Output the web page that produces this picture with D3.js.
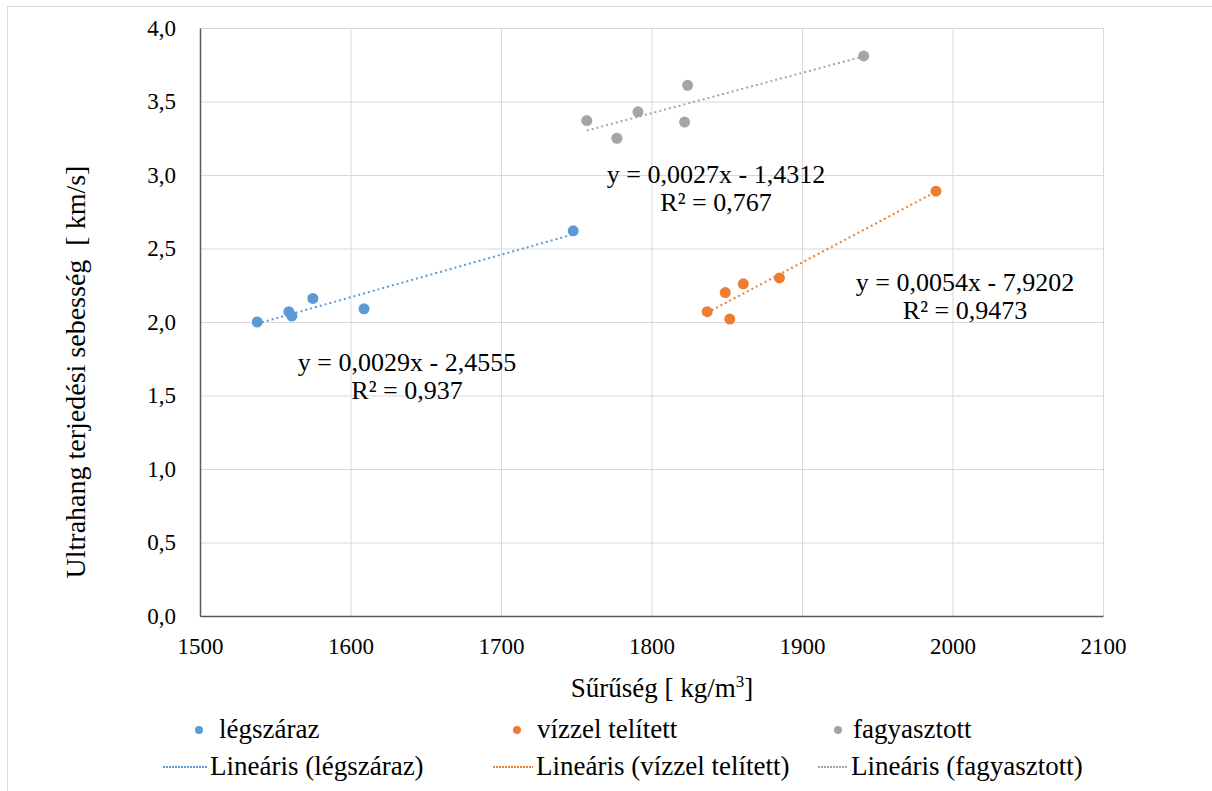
<!DOCTYPE html>
<html>
<head>
<meta charset="utf-8">
<script src="https://cdn.jsdelivr.net/npm/d3@7"></script>
<style>
  body { margin: 0; background: #fff; }
  svg text { font-family: "Times New Roman", "Liberation Serif", Tinos, "DejaVu Serif", "Noto Serif", serif; fill: #000; }
</style>
</head>
<body>
<div id="chart"></div>
<script>
// values
var seriesNames = ["légszáraz", "vízzel telített", "fagyasztott"];
var colors = ["#5b9bd5", "#ed7d31", "#a5a5a5"];
var legszarazX = [1538, 1559, 1561, 1575, 1609, 1748];
var legszarazY = [2.00, 2.07, 2.04, 2.16, 2.09, 2.62];
var vizzelX = [1837, 1849, 1852, 1861, 1885, 1989];
var vizzelY = [2.07, 2.20, 2.02, 2.26, 2.30, 2.89];
var fagyX = [1757, 1777, 1791, 1822, 1824, 1941];
var fagyY = [3.37, 3.25, 3.43, 3.36, 3.61, 3.81];
var xTicks = [1500, 1600, 1700, 1800, 1900, 2000, 2100];
var yTicks = [0, 0.5, 1, 1.5, 2, 2.5, 3, 3.5, 4];
var eqLabels = [
  ["y = 0,0029x - 2,4555", "R² = 0,937"],
  ["y = 0,0054x - 7,9202", "R² = 0,9473"],
  ["y = 0,0027x - 1,4312", "R² = 0,767"]
];

var width = 1212, height = 791;
var pLeft = 200, pRight = 1103, pTop = 28, pBottom = 616;

var svg = d3.select("#chart").append("svg")
    .attr("width", width)
    .attr("height", height);

// outer chart border (top + left visible in the crop)
svg.append("path")
    .attr("d", "M7.5,791V6.5H1212")
    .style("fill", "none").style("stroke", "#d9d9d9");

var x = d3.scaleLinear().domain([1500, 2100]).range([pLeft, pRight]);
var y = d3.scaleLinear().domain([0, 4]).range([pBottom, pTop]);
var fmt = function(d) { return d3.format(".1f")(d).replace(".", ","); };

// grid
svg.append("g")
    .attr("transform", "translate(0," + pBottom + ")")
    .call(d3.axisBottom(x).tickValues(xTicks).tickSize(-(pBottom - pTop)).tickFormat(""))
    .call(g => g.select(".domain").remove())
    .selectAll("line").style("stroke", "#d9d9d9");
svg.append("g")
    .attr("transform", "translate(" + pLeft + ",0)")
    .call(d3.axisLeft(y).tickValues(yTicks).tickSize(-(pRight - pLeft)).tickFormat(""))
    .call(g => g.select(".domain").remove())
    .selectAll("line").style("stroke", "#d9d9d9");

// axes
var xAxis = svg.append("g")
    .attr("transform", "translate(0," + pBottom + ")")
    .call(d3.axisBottom(x).tickValues(xTicks).tickSize(0).tickPadding(22).tickFormat(d3.format("d")));
xAxis.attr("font-family", null).attr("font-size", null);
xAxis.select(".domain").style("stroke", "#595959").style("stroke-width", 1.5);
xAxis.selectAll("text").style("font-size", "23px");

var yAxis = svg.append("g")
    .attr("transform", "translate(" + pLeft + ",0)")
    .call(d3.axisLeft(y).tickValues(yTicks).tickSize(0).tickPadding(24).tickFormat(fmt));
yAxis.attr("font-family", null).attr("font-size", null);
yAxis.select(".domain").style("stroke", "#595959").style("stroke-width", 1.5);
yAxis.selectAll("text").style("font-size", "23px");

// axis titles
var xt = svg.append("text")
    .attr("x", 662).attr("y", 697)
    .attr("text-anchor", "middle")
    .style("font-size", "27px");
xt.append("tspan").text("Sűrűség [ kg/m");
xt.append("tspan").attr("dy", -10).style("font-size", "17px").text("3");
xt.append("tspan").attr("dy", 10).text("]");

svg.append("text")
    .attr("transform", "translate(85,372) rotate(-90)")
    .attr("text-anchor", "middle")
    .style("font-size", "28px")
    .style("white-space", "pre")
    .text("Ultrahang terjedési sebesség  [ km/s]");

// data
var series = [
  { xs: legszarazX, ys: legszarazY },
  { xs: vizzelX, ys: vizzelY },
  { xs: fagyX, ys: fagyY }
];

function fit(xs, ys) {
  var mx = d3.mean(xs), my = d3.mean(ys);
  var sxy = d3.sum(xs, (v, i) => (v - mx) * (ys[i] - my));
  var sxx = d3.sum(xs, v => (v - mx) * (v - mx));
  var b = sxy / sxx;
  return { b: b, a: my - b * mx };
}

series.forEach(function(s, k) {
  var f = fit(s.xs, s.ys);
  var x0 = d3.min(s.xs), x1 = d3.max(s.xs);
  svg.append("line")
      .attr("x1", x(x0)).attr("y1", y(f.a + f.b * x0))
      .attr("x2", x(x1)).attr("y2", y(f.a + f.b * x1))
      .style("stroke", colors[k]).style("stroke-width", 2)
      .style("stroke-dasharray", "2,3");
});

series.forEach(function(s, k) {
  svg.append("g").selectAll("circle")
      .data(s.xs)
      .enter().append("circle")
      .attr("cx", d => x(d))
      .attr("cy", (d, i) => y(s.ys[i]))
      .attr("r", 5.5)
      .style("fill", colors[k]);
});

// trendline labels, centred
var eqPos = [
  [[407, 371], [407, 399]],
  [[965, 291], [965, 319]],
  [[716, 183], [716, 211]]
];
eqLabels.forEach(function(lbl, k) {
  lbl.forEach(function(t, j) {
    svg.append("text")
        .attr("x", eqPos[k][j][0]).attr("y", eqPos[k][j][1])
        .attr("text-anchor", "middle")
        .style("font-size", "26px")
        .text(t);
  });
});

// legend
var dotX = [199, 517, 838];
var textX = [219, 537, 853];
var lineX = [[163, 207], [493, 533], [818, 848]];
var legend = svg.selectAll(".legend")
    .data(seriesNames)
    .enter().append("g")
    .attr("class", "legend");

legend.append("circle")
    .attr("cx", (d, i) => dotX[i])
    .attr("cy", 730)
    .attr("r", 4)
    .style("fill", (d, i) => colors[i]);
legend.append("text")
    .attr("x", (d, i) => textX[i])
    .attr("y", 738)
    .style("font-size", "27px")
    .text(d => d);

legend.append("line")
    .attr("x1", (d, i) => lineX[i][0])
    .attr("x2", (d, i) => lineX[i][1])
    .attr("y1", 767).attr("y2", 767)
    .style("stroke", (d, i) => colors[i])
    .style("stroke-width", 2)
    .style("stroke-dasharray", "2,1");
legend.append("text")
    .attr("x", (d, i) => lineX[i][1] + 3)
    .attr("y", 775)
    .style("font-size", "27px")
    .text(d => "Lineáris (" + d + ")");
</script>
</body>
</html>
